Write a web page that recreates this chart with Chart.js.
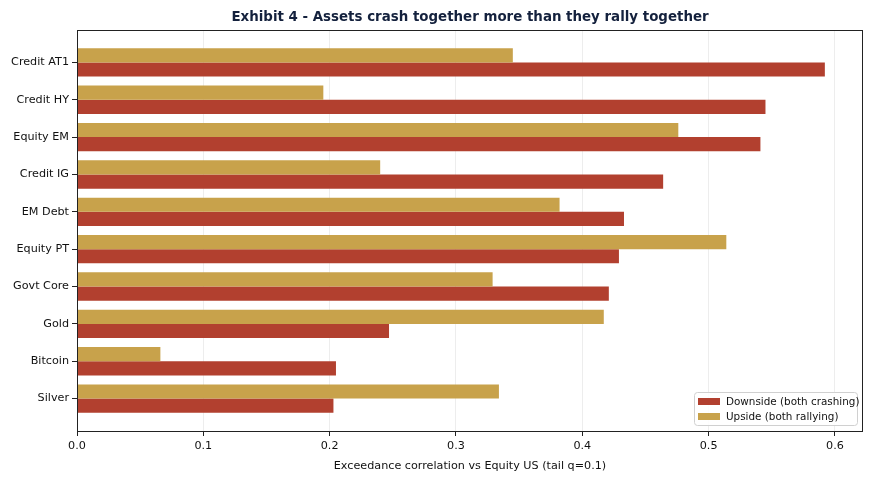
<!DOCTYPE html>
<html>
<head>
<meta charset="utf-8">
<script src="https://cdn.jsdelivr.net/npm/chart.js@4.4.1/dist/chart.umd.min.js"></script>
<style>
  html, body { margin: 0; padding: 0; background: #fff; }
  #wrap { width: 875px; height: 477px; }
</style>
</head>
<body>
<div id="wrap"><canvas id="chart" width="875" height="477"></canvas></div>
<script>
const categories = ['Credit AT1', 'Credit HY', 'Equity EM', 'Credit IG', 'EM Debt',
                    'Equity PT', 'Govt Core', 'Gold', 'Bitcoin', 'Silver'];
const downside = [0.592, 0.545, 0.541, 0.464, 0.433, 0.429, 0.421, 0.247, 0.205, 0.203];
const upside   = [0.345, 0.195, 0.476, 0.240, 0.382, 0.514, 0.329, 0.417, 0.066, 0.334];
const xTicks   = [0.0, 0.1, 0.2, 0.3, 0.4, 0.5, 0.6];

const titleText = 'Exhibit 4 - Assets crash together more than they rally together';
const RED  = '#b2402f';
const GOLD = '#c8a24b';
const FONT = "'DejaVu Sans', sans-serif";

// frame around plot + centred title + inside legend
const extras = {
    id: 'extras',
    afterDraw(chart) {
        const { ctx, chartArea: a } = chart;
        ctx.save();
        ctx.strokeStyle = '#222';
        ctx.lineWidth = 1;
        ctx.strokeRect(a.left + 0.5, a.top + 0.5, a.right - a.left - 1, a.bottom - a.top);

        ctx.fillStyle = '#14213d';
        ctx.font = 'bold 13.4px ' + FONT;
        ctx.textAlign = 'center';
        ctx.textBaseline = 'middle';
        ctx.fillText(titleText, (a.left + a.right) / 2, 18);

        // legend: Downside first, then Upside
        const items = [chart.data.datasets[1], chart.data.datasets[0]];
        const bx = 694, by = 392, bw = 163, bh = 33;
        ctx.fillStyle = 'rgba(255,255,255,0.85)';
        ctx.strokeStyle = '#d0d0d0';
        ctx.beginPath();
        ctx.roundRect(bx + 0.5, by + 0.5, bw, bh, 3);
        ctx.fill();
        ctx.stroke();
        ctx.font = '10.4px ' + FONT;
        ctx.textAlign = 'left';
        items.forEach((ds, i) => {
            const y = by + 9 + i * 15;
            ctx.fillStyle = ds.backgroundColor;
            ctx.fillRect(bx + 4, y - 3, 22, 7);
            ctx.fillStyle = '#111';
            ctx.fillText(ds.label, bx + 32, y + 1);
        });
        ctx.restore();
    }
};

new Chart(document.getElementById('chart'), {
    type: 'bar',
    data: {
        datasets: [
            { label: 'Upside (both rallying)', data: upside.map((v, i) => ({ x: v, y: i })),
              backgroundColor: GOLD, borderWidth: 0 },
            { label: 'Downside (both crashing)', data: downside.map((v, i) => ({ x: v, y: i })),
              backgroundColor: RED, borderWidth: 0 }
        ]
    },
    options: {
        indexAxis: 'y',
        responsive: false,
        animation: false,
        categoryPercentage: 0.76,
        barPercentage: 1,
        layout: { padding: { top: 30, right: 12, left: 0, bottom: 0 } },
        plugins: { legend: { display: false }, title: { display: false }, tooltip: { enabled: false } },
        scales: {
            x: {
                type: 'linear',
                min: 0, max: 0.6222,
                afterBuildTicks: s => { s.ticks = xTicks.map(v => ({ value: v })); },
                afterFit: s => { s.height = 46; },
                ticks: { color: '#111', font: { family: FONT, size: 11.2 }, padding: 3,
                         callback: v => Number(v).toFixed(1), maxRotation: 0 },
                grid: { color: 'rgba(0,0,0,0.07)', tickColor: '#222', tickLength: 5, drawOnChartArea: true },
                border: { display: false },
                title: { display: true, text: 'Exceedance correlation vs Equity US (tail q=0.1)',
                         color: '#111', font: { family: FONT, size: 11.2 }, padding: { top: 3 } }
            },
            y: {
                type: 'linear',
                reverse: true,
                offset: false,
                min: -0.868, max: 9.868,
                afterBuildTicks: s => { s.ticks = categories.map((_, i) => ({ value: i })); },
                afterFit: s => { s.width = 77; },
                ticks: { color: '#111', font: { family: FONT, size: 11.2 }, padding: 3,
                         callback: v => categories[v] },
                grid: { color: 'transparent', tickColor: '#222', tickLength: 5, offset: false },
                border: { display: false }
            }
        }
    },
    plugins: [extras]
});
</script>
</body>
</html>
